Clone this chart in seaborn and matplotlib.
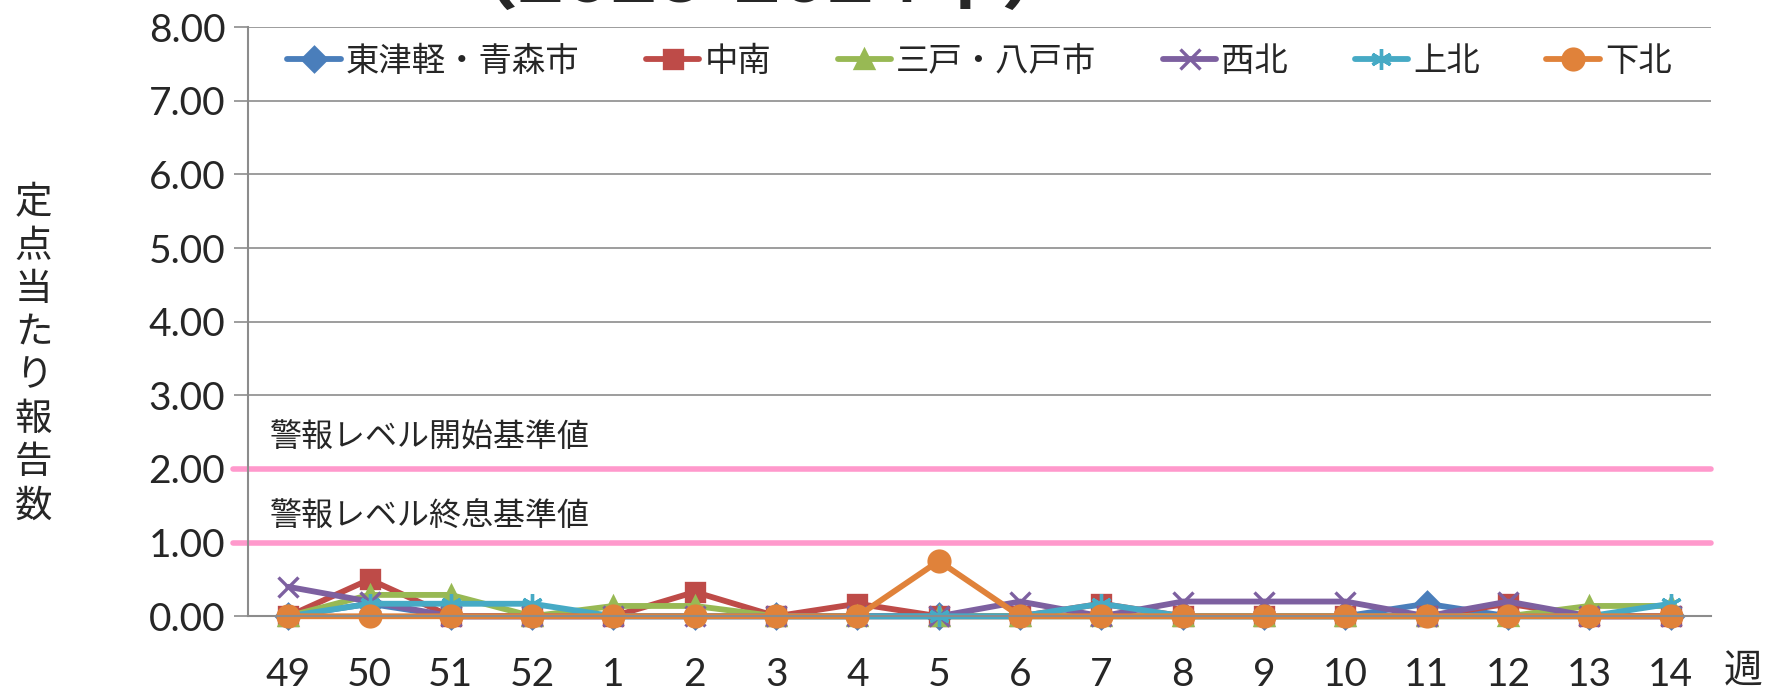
import numpy as np
import matplotlib
matplotlib.use("Agg")
import matplotlib.pyplot as plt
import seaborn as sns

# week labels (2023 wk49 - 2024 wk14)
weeks = ['49', '50', '51', '52', '1', '2', '3', '4', '5', '6',
         '7', '8', '9', '10', '11', '12', '13', '14']

# 定点当たり報告数 by region
higashi_tsugaru = [0, 0.17, 0, 0, 0, 0, 0, 0, 0, 0, 0, 0, 0, 0, 0.17, 0, 0, 0]
chunan = [0, 0.5, 0, 0, 0, 0.33, 0, 0.17, 0, 0, 0.17, 0, 0, 0, 0, 0.17, 0, 0]
sannohe = [0, 0.29, 0.29, 0, 0.14, 0.14, 0, 0, 0, 0, 0, 0, 0, 0, 0, 0, 0.14, 0.14]
seihoku = [0.4, 0.2, 0, 0, 0, 0, 0, 0, 0, 0.2, 0, 0.2, 0.2, 0.2, 0, 0.2, 0, 0]
kamikita = [0, 0.17, 0.17, 0.17, 0, 0, 0, 0, 0, 0, 0.17, 0, 0, 0, 0, 0, 0, 0.17]
shimokita = [0, 0, 0, 0, 0, 0, 0, 0, 0.75, 0, 0, 0, 0, 0, 0, 0, 0, 0]

region_names = ['東津軽・青森市', '中南', '三戸・八戸市', '西北', '上北', '下北']
warn_start = 2.0
warn_end = 1.0

sns.set_theme(style="white")
plt.rcParams['font.family'] = ['Lato', 'Noto Sans CJK JP', 'DejaVu Sans']

fig = plt.figure(figsize=(17.68, 6.94), dpi=100)
ax = fig.add_axes([0.140, 0.112, 0.828, 0.849])

series = [higashi_tsugaru, chunan, sannohe, seihoku, kamikita, shimokita]
colors = ['#4a7ebb', '#be4b48', '#98b954', '#7d60a0', '#46aac5', '#e0823a']
markers = ['D', 's', '^', 'x', (6, 2, 0), 'o']
msizes = [12, 13, 13, 14, 15, 15]

x = np.arange(len(weeks))
for vals, name, c, m, ms in zip(series, region_names, colors, markers, msizes):
    sns.lineplot(x=x, y=vals, ax=ax, color=c, marker=m, markersize=ms,
                 markeredgecolor=c, markeredgewidth=2.4, linewidth=4.2,
                 label=name, clip_on=False)

# alert level lines
ax.axhline(warn_start, xmin=-0.01, xmax=1.0, color='#ff99cc', lw=4, clip_on=False, zorder=1)
ax.axhline(warn_end, xmin=-0.01, xmax=1.0, color='#ff99cc', lw=4, clip_on=False, zorder=1)
ax.text(-0.22, 2.42, '警報レベル開始基準値', fontsize=23, va='center', ha='left')
ax.text(-0.22, 1.35, '警報レベル終息基準値', fontsize=23, va='center', ha='left')

ax.set_xlim(-0.5, len(weeks) - 0.5)
ax.set_ylim(0, 8)
ax.set_yticks(np.arange(0, 9, 1))
ax.set_yticklabels([f'{v:.2f}' for v in np.arange(0, 9, 1)], fontsize=28)
ax.yaxis.grid(True, color='#8c8c8c', lw=1.2)
ax.set_axisbelow(True)

ax.set_xticks(x)
ax.set_xticklabels(weeks, fontsize=28)
ax.set_xticks(np.arange(-0.5, len(weeks), 1), minor=True)
ax.tick_params(axis='x', which='major', length=0, pad=29)
ax.tick_params(axis='x', which='minor', length=12, width=1.5, color='#8c8c8c', direction='out')
ax.tick_params(axis='y', length=10, width=1.2, color='#8c8c8c', direction='out', pad=6, left=True)

for s in ['top', 'right']:
    ax.spines[s].set_visible(False)
for s in ['left', 'bottom']:
    ax.spines[s].set_color('#8c8c8c')
    ax.spines[s].set_linewidth(1.5)

ax.set_xlabel('')
ax.set_ylabel('')
fig.text(0.019, 0.49, '\n'.join('定点当たり報告数'), fontsize=27, ha='center', va='center',
         linespacing=1.25)
fig.text(0.986, 0.033, '週', fontsize=28, ha='center', va='center')
fig.text(0.43, 1 - 2 / 694, '（2023-2024年）', fontsize=58, ha='center', va='baseline',
         fontweight='bold')

leg = ax.legend(loc='upper center', bbox_to_anchor=(0.5, 1.02), ncol=6, frameon=False,
                fontsize=24, handlelength=1.6, columnspacing=2.0, handletextpad=0.15)

fig.savefig('out.png', dpi=100)
